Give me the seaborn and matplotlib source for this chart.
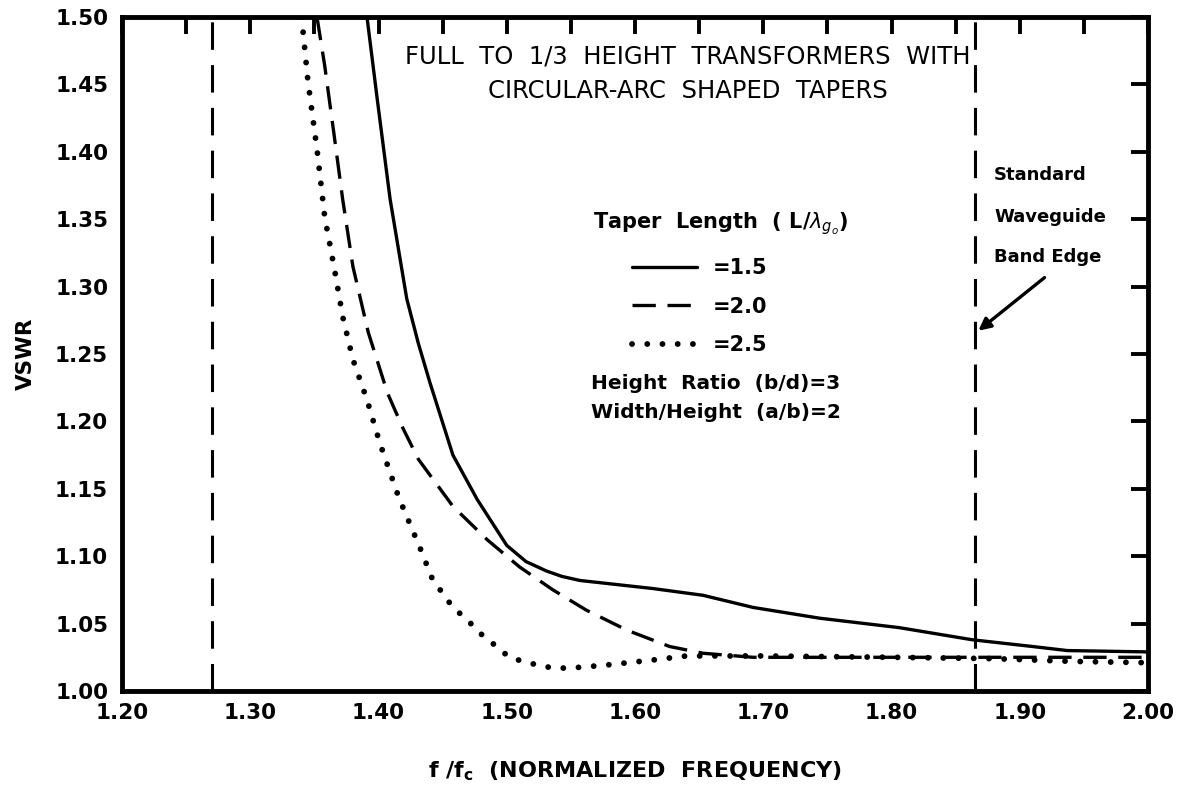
import numpy as np
import pandas as pd
import seaborn as sns
import matplotlib
matplotlib.use("Agg")
import matplotlib.pyplot as plt
from matplotlib.lines import Line2D
from matplotlib.ticker import MultipleLocator

# values
x_15 = [1.391, 1.399, 1.409, 1.422, 1.431, 1.440, 1.458, 1.477, 1.500, 1.515,
        1.531, 1.543, 1.557, 1.614, 1.653, 1.692, 1.744, 1.806, 1.863, 1.910,
        1.937, 2.000]
y_15 = [1.500, 1.439, 1.365, 1.291, 1.258, 1.229, 1.175, 1.142, 1.108, 1.096,
        1.089, 1.085, 1.082, 1.076, 1.071, 1.062, 1.054, 1.047, 1.038, 1.033,
        1.030, 1.029]

x_20 = [1.352, 1.358, 1.365, 1.372, 1.380, 1.392, 1.407, 1.419, 1.431, 1.458,
        1.485, 1.510, 1.536, 1.562, 1.594, 1.627, 1.653, 1.692, 1.744, 1.800,
        1.860, 1.920, 2.000]
y_20 = [1.500, 1.464, 1.415, 1.365, 1.315, 1.266, 1.221, 1.195, 1.172, 1.137,
        1.112, 1.092, 1.075, 1.060, 1.045, 1.033, 1.028, 1.025, 1.025, 1.025,
        1.025, 1.025, 1.025]

x_25 = [1.340, 1.345, 1.352, 1.358, 1.366, 1.372, 1.380, 1.391, 1.401, 1.416,
        1.432, 1.442, 1.458, 1.469, 1.479, 1.492, 1.502, 1.516, 1.536, 1.549,
        1.575, 1.614, 1.640, 1.700, 1.800, 1.880, 1.940, 2.000]
y_25 = [1.500, 1.452, 1.402, 1.352, 1.311, 1.278, 1.246, 1.216, 1.184, 1.143,
        1.107, 1.083, 1.062, 1.053, 1.043, 1.033, 1.025, 1.021, 1.017, 1.017,
        1.019, 1.023, 1.026, 1.026, 1.025, 1.024, 1.022, 1.021]

taper_labels = ["=1.5", "=2.0", "=2.5"]
band_edges = [1.27, 1.865]

x_ticks = [1.20, 1.30, 1.40, 1.50, 1.60, 1.70, 1.80, 1.90, 2.00]
y_ticks = [1.00, 1.05, 1.10, 1.15, 1.20, 1.25, 1.30, 1.35, 1.40, 1.45, 1.50]

df = pd.concat([
    pd.DataFrame({"f": x_15, "vswr": y_15, "taper": taper_labels[0]}),
    pd.DataFrame({"f": x_20, "vswr": y_20, "taper": taper_labels[1]}),
    pd.DataFrame({"f": x_25, "vswr": y_25, "taper": taper_labels[2]}),
])

sns.set_style("white")
plt.rcParams["font.family"] = ["DejaVu Sans"]
plt.rcParams["mathtext.fontset"] = "dejavusans"
plt.rcParams["text.color"] = "black"
plt.rcParams["axes.labelcolor"] = "black"

fig = plt.figure(figsize=(11.93, 7.88), dpi=100)
ax = fig.add_axes([0.1023, 0.1231, 0.8600, 0.8553])

styles = {
    "=1.5": dict(linestyle="-", lw=2.4),
    "=2.0": dict(linestyle=(0, (7, 3.5)), lw=2.4),
    "=2.5": dict(linestyle=(0, (0.01, 2.6)), lw=4.2, dash_capstyle="round"),
}
for lab in taper_labels:
    sub = df[df["taper"] == lab]
    sns.lineplot(data=sub, x="f", y="vswr", ax=ax, color="black",
                 estimator=None, sort=False, **styles[lab])

for xb in band_edges:
    ax.axvline(xb, color="black", lw=2.2, linestyle=(0, (9, 5)))

ax.set_xlim(1.20, 2.00)
ax.set_ylim(1.00, 1.50)
ax.set_xticks(x_ticks)
ax.set_xticklabels([f"{v:.2f}" for v in x_ticks])
ax.xaxis.set_minor_locator(MultipleLocator(0.05))
ax.set_yticks(y_ticks)
ax.set_yticklabels([f"{v:.2f}" for v in y_ticks])
ax.tick_params(which="both", direction="in", length=12, width=2.8,
               top=True, right=True, colors="black")
ax.tick_params(axis="x", pad=9, labelsize=15.5)
ax.tick_params(axis="y", pad=10, labelsize=15.5)
for t in ax.get_xticklabels() + ax.get_yticklabels():
    t.set_fontweight("bold")
for sp in ax.spines.values():
    sp.set_linewidth(3.5)
    sp.set_color("black")

ax.set_xlabel("f /f$_\\mathbf{c}$  (NORMALIZED  FREQUENCY)", fontsize=16,
              fontweight="bold", labelpad=26)
ax.set_ylabel("VSWR", fontsize=15.5, fontweight="bold", labelpad=14)

ax.text(1.641, 1.471, "FULL  TO  1/3  HEIGHT  TRANSFORMERS  WITH", ha="center",
        va="center", fontsize=17.5)
ax.text(1.641, 1.445, "CIRCULAR-ARC  SHAPED  TAPERS", ha="center",
        va="center", fontsize=17.5)

# legend: title as its own text, entries indented below it
ax.text(0.459, 0.693, "Taper  Length  ( L/$\\lambda_{g_o}$)", transform=ax.transAxes,
        fontsize=15, fontweight="bold", va="center")
handles = [Line2D([], [], color="black", **styles[lab]) for lab in taper_labels]
leg = ax.legend(handles, taper_labels, loc="upper left",
                bbox_to_anchor=(0.497, 0.642), frameon=False, borderpad=0,
                borderaxespad=0, fontsize=15, handlelength=3.1,
                handletextpad=0.8, labelspacing=0.88)
for t in leg.get_texts():
    t.set_fontweight("bold")

ax.text(0.457, 0.456, "Height  Ratio  (b/d)=3", transform=ax.transAxes,
        fontsize=14.5, fontweight="bold", va="center")
ax.text(0.457, 0.413, "Width/Height  (a/b)=2", transform=ax.transAxes,
        fontsize=14.5, fontweight="bold", va="center")

for i, s in enumerate(["Standard", "Waveguide", "Band Edge"]):
    ax.text(1.880, [1.383, 1.352, 1.322][i], s, fontsize=13,
            fontweight="bold", va="center")
ax.annotate("", xy=(1.866, 1.266), xytext=(1.921, 1.308),
            arrowprops=dict(arrowstyle="-|>", color="black", lw=2.4,
                            mutation_scale=18))

fig.savefig("out.png", dpi=100)
